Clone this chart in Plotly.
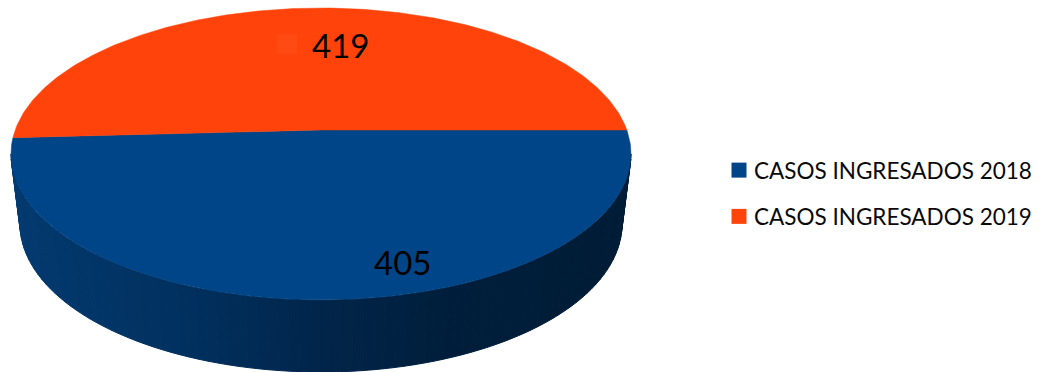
import math
import plotly.graph_objects as go

categories = ["CASOS INGRESADOS 2018", "CASOS INGRESADOS 2019"]
values = [405, 419]
colors = ["#004587", "#FF430A"]
side_stops = [(11, (3, 58, 112)), (200, (1, 47, 93)), (321, (1, 37, 74)), (450, (0, 30, 59)), (631, (0, 28, 54))]

W, H = 1039, 372
CX, APEX_Y = 321, 130
PERSP = 0.164
A, C = 142, 305.8
TOP_CY, TOP_RX, TOP_RY = 154, 310, 146
BOT_CY, BOT_RX, BOT_RY = 224, 301, 148
N_SIDE = 90


def project(theta):
    d = 1 - PERSP * math.sin(theta)
    return CX + C * math.cos(theta) / d, APEX_Y + A * math.sin(theta) / d


def side_color(x):
    for (x0, c0), (x1, c1) in zip(side_stops, side_stops[1:]):
        if x <= x1:
            t = max(0, (x - x0) / (x1 - x0))
            return "rgb(%d,%d,%d)" % tuple(round(a + (b - a) * t) for a, b in zip(c0, c1))
    return "rgb(%d,%d,%d)" % side_stops[-1][1]


fig = go.Figure()

# Side wall, drawn as thin shaded slats
for i in range(N_SIDE):
    p0, p1 = math.pi * i / N_SIDE, math.pi * (i + 1) / N_SIDE
    xs = [CX + TOP_RX * math.cos(p0), CX + TOP_RX * math.cos(p1), CX + BOT_RX * math.cos(p1), CX + BOT_RX * math.cos(p0)]
    ys = [TOP_CY + TOP_RY * math.sin(p0), TOP_CY + TOP_RY * math.sin(p1), BOT_CY + BOT_RY * math.sin(p1), BOT_CY + BOT_RY * math.sin(p0)]
    col = side_color(sum(xs) / 4)
    fig.add_trace(go.Scatter(x=xs + xs[:1], y=ys + ys[:1], mode="lines", fill="toself", fillcolor=col,
                             line=dict(color=col, width=1), showlegend=False, hoverinfo="skip"))

# Top face slices, clockwise from the east
total = sum(values)
start = 0.0
for name, v, col in zip(categories, values, colors):
    sweep = 2 * math.pi * v / total
    steps = 240
    pts = [project(start + sweep * k / steps) for k in range(steps + 1)]
    xs = [CX] + [p[0] for p in pts] + [CX]
    ys = [APEX_Y] + [p[1] for p in pts] + [APEX_Y]
    fig.add_trace(go.Scatter(x=xs, y=ys, mode="lines", fill="toself", fillcolor=col,
                             line=dict(color=col, width=0.5), name=name, showlegend=False, hoverinfo="skip"))
    start += sweep

# Faint key square beside the 2019 label
fig.add_trace(go.Scatter(x=[287], y=[44], mode="markers", marker=dict(symbol="square", size=20, color="#FF4A14"),
                         showlegend=False, hoverinfo="skip"))

# Legend entries
for name, col in zip(categories, colors):
    fig.add_trace(go.Scatter(x=[None], y=[None], mode="markers", name=name, legendgroup=name,
                             marker=dict(symbol="square", size=15, color=col)))

label_pos = [(402, 262), (340, 45)]
for v, (x, y) in zip(values, label_pos):
    fig.add_annotation(x=x, y=y, text=str(v), showarrow=False, font=dict(family="Lato", size=33, color="#000000"))

fig.update_layout(
    width=W, height=H, margin=dict(l=0, r=0, t=0, b=0),
    paper_bgcolor="white", plot_bgcolor="white",
    xaxis=dict(range=[0, W], visible=False, fixedrange=True),
    yaxis=dict(range=[H, 0], visible=False, fixedrange=True),
    legend=dict(x=714 / W, y=1 - 149 / H, xanchor="left", yanchor="top", traceorder="grouped",
                tracegroupgap=14, bgcolor="rgba(0,0,0,0)", itemclick=False, itemdoubleclick=False,
                font=dict(family="Lato", size=22.5, color="#0a0a0a")),
    showlegend=True,
)
post = """
document.body.style.margin = '0';
document.querySelectorAll('.legend .legendpoints').forEach(function (el) {
  el.setAttribute('transform', 'translate(5,0) ' + (el.getAttribute('transform') || ''));
});
"""
fig.write_html("out.html", config={"displayModeBar": False}, post_script=post)
